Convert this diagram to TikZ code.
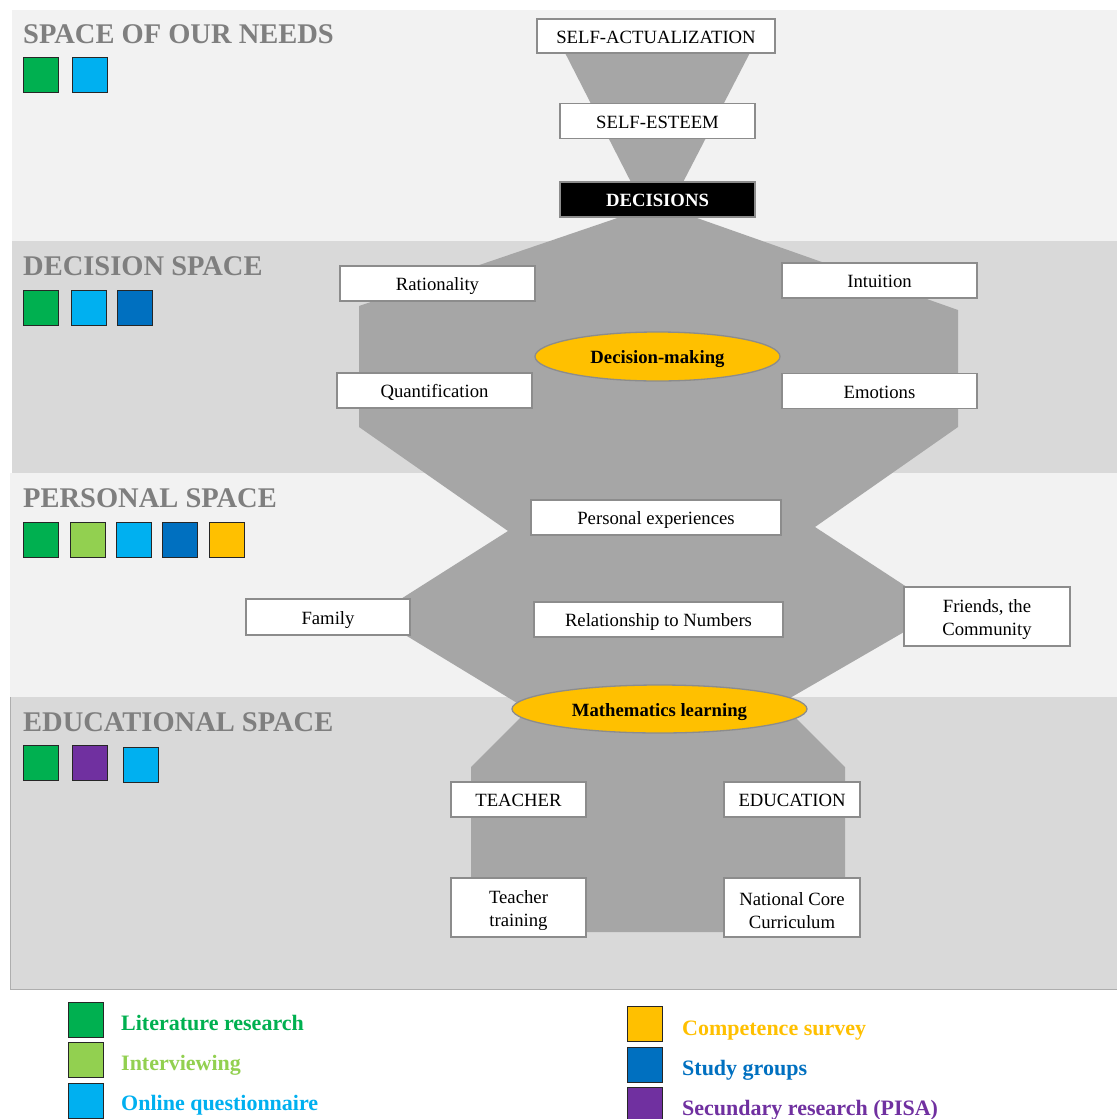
\documentclass[tikz,border=0pt]{standalone}
\usepackage{fontspec}
\setmainfont{Liberation Serif}
\usetikzlibrary{shapes.geometric}

\definecolor{bandlight}{HTML}{F2F2F2}
\definecolor{banddark}{HTML}{D9D9D9}
\definecolor{funnel}{HTML}{A6A6A6}
\definecolor{titlegray}{HTML}{7F7F7F}
\definecolor{boxline}{HTML}{8C8C8C}
\definecolor{cgreen}{HTML}{00B050}
\definecolor{clgreen}{HTML}{92D050}
\definecolor{ccyan}{HTML}{00B0F0}
\definecolor{cblue}{HTML}{0070C0}
\definecolor{cyellow}{HTML}{FFC000}
\definecolor{cpurple}{HTML}{7030A0}

% strut that lowers the first line of two-line labels
\newcommand{\toplift}{\rule{0pt}{19.5pt}}

\tikzset{
  boxfont/.style={font=\fontsize{18.7}{23}\selectfont},
  textbox/.style={boxfont, draw=boxline, fill=white, line width=1.3pt,
    inner sep=0pt, align=center},
  oneline/.style={text height=17.5pt, text depth=3.5pt},
  oval/.style={ellipse, draw=boxline, fill=cyellow, line width=1.3pt,
    inner sep=0pt, oneline, font=\fontsize{18.7}{22}\selectfont\bfseries},
  bandtitle/.style={anchor=base west, inner sep=0pt, text=titlegray,
    font=\fontsize{28.5}{30}\selectfont\bfseries},
  swatch/.style={draw=black!85, line width=1.4pt, minimum width=35pt,
    minimum height=35pt, inner sep=0pt, anchor=north west},
  legendtext/.style={anchor=base west, inner sep=0pt,
    font=\fontsize{22}{24}\selectfont\bfseries}
}

\begin{document}
\begin{tikzpicture}[x=1pt, y=-1pt]
\useasboundingbox (0,0) rectangle (1117,1119);
\fill[white] (0,0) rectangle (1117,1119);

% horizontal bands
\fill[bandlight] (12,10) rectangle (1117,241);
\fill[banddark] (12,241) rectangle (1117,473);
\fill[bandlight] (10,473) rectangle (1117,697);
\fill[banddark] (10,697) rectangle (1117,989);
\draw[boxline!70, line width=0.8pt] (10,697) -- (10,989) -- (1117,989);

% grey funnel through the spaces
\fill[funnel] (561,45) -- (754,45) -- (679,190) -- (635,190) -- cycle;
\fill[funnel] (635,212) -- (680,212) -- (958,310) -- (958,427) -- (815,527)
  -- (942,610) -- (771,709) -- (787,709) -- (845,767) -- (845,932)
  -- (471,932) -- (471,767) -- (529,709) -- (527,709) -- (374,616)
  -- (508,531) -- (359,427) -- (359,306) -- cycle;

% band titles
\node[bandtitle] (t1) at (23,43) {SPACE OF OUR NEEDS};
\node[bandtitle] (t2) at (23,275) {DECISION SPACE};
\node[bandtitle] (t3) at (23,507) {PERSONAL SPACE};
\node[bandtitle] (t4) at (23,731) {EDUCATIONAL SPACE};

% method swatches per band
\node[swatch, fill=cgreen] (s1a) at (23,57) {};
\node[swatch, fill=ccyan] (s1b) at (72,57) {};

\node[swatch, fill=cgreen] (s2a) at (23,290) {};
\node[swatch, fill=ccyan] (s2b) at (71,290) {};
\node[swatch, fill=cblue] (s2c) at (117,290) {};

\node[swatch, fill=cgreen] (s3a) at (23,522) {};
\node[swatch, fill=clgreen] (s3b) at (70,522) {};
\node[swatch, fill=ccyan] (s3c) at (116,522) {};
\node[swatch, fill=cblue] (s3d) at (162,522) {};
\node[swatch, fill=cyellow] (s3e) at (209,522) {};

\node[swatch, fill=cgreen] (s4a) at (23,745) {};
\node[swatch, fill=cpurple] (s4b) at (72,745) {};
\node[swatch, fill=ccyan] (s4c) at (123,747) {};

% space of our needs
\node[textbox, oneline, minimum width=238pt, minimum height=34pt] (sa) at (656,36) {SELF-ACTUALIZATION};
\node[textbox, oneline, minimum width=195pt, minimum height=35pt] (se) at (657.5,121) {SELF-ESTEEM};
\node[textbox, oneline, fill=black, text=white, minimum width=195pt, minimum height=35pt,
  font=\fontsize{18.7}{22}\selectfont\bfseries] (dec) at (657.5,199.5) {DECISIONS};

% decision space
\node[textbox, oneline, minimum width=195pt, minimum height=35pt] (rat) at (437.5,283.5) {Rationality};
\node[textbox, oneline, minimum width=195pt, minimum height=35pt] (int) at (879.5,280.5) {Intuition};
\node[textbox, oneline, minimum width=195pt, minimum height=35pt] (quant) at (434.5,390.5) {Quantification};
\node[textbox, oneline, minimum width=195pt, minimum height=35pt] (emo) at (879.5,391) {Emotions};
\node[oval, minimum width=245pt, minimum height=49pt] (dm) at (657.5,356.5) {Decision-making};

% personal space
\node[textbox, oneline, minimum width=250pt, minimum height=35pt] (pe) at (656,517.5) {Personal experiences};
\node[textbox, oneline, minimum width=164pt, minimum height=36pt] (fam) at (328,617) {Family};
\node[textbox, oneline, minimum width=249pt, minimum height=35pt] (rel) at (658.5,619.5) {Relationship to Numbers};
\node[textbox, minimum width=166pt, minimum height=59pt] (fr) at (987,616.5) {\toplift Friends, the\\Community};

% educational space
\node[oval, minimum width=295pt, minimum height=48pt] (ml) at (659.5,709) {Mathematics learning};
\node[textbox, oneline, minimum width=135pt, minimum height=35pt] (teach) at (518.5,799.5) {TEACHER};
\node[textbox, oneline, minimum width=136pt, minimum height=35pt] (edu) at (792,799.5) {EDUCATION};
\node[textbox, minimum width=135pt, minimum height=59pt] (tt) at (518.5,907.5) {\toplift Teacher\\training};
\node[textbox, minimum width=136pt, minimum height=59pt] (ncc) at (792,907.5) {\toplift National Core\\Curriculum};

% legend
\node[swatch, fill=cgreen] (lg1) at (68,1002) {};
\node[swatch, fill=clgreen] (lg2) at (68,1042) {};
\node[swatch, fill=ccyan] (lg3) at (68,1083) {};
\node[swatch, fill=cyellow] (lg4) at (627,1006) {};
\node[swatch, fill=cblue] (lg5) at (627,1047) {};
\node[swatch, fill=cpurple] (lg6) at (627,1087) {};

\node[legendtext, text=cgreen] (lt1) at (121,1030) {Literature research};
\node[legendtext, text=clgreen] (lt2) at (121,1070) {Interviewing};
\node[legendtext, text=ccyan] (lt3) at (121,1110) {Online questionnaire};
\node[legendtext, text=cyellow] (lt4) at (682,1035) {Competence survey};
\node[legendtext, text=cblue] (lt5) at (682,1075) {Study groups};
\node[legendtext, text=cpurple] (lt6) at (682,1115) {Secundary research (PISA)};
\end{tikzpicture}
\end{document}
